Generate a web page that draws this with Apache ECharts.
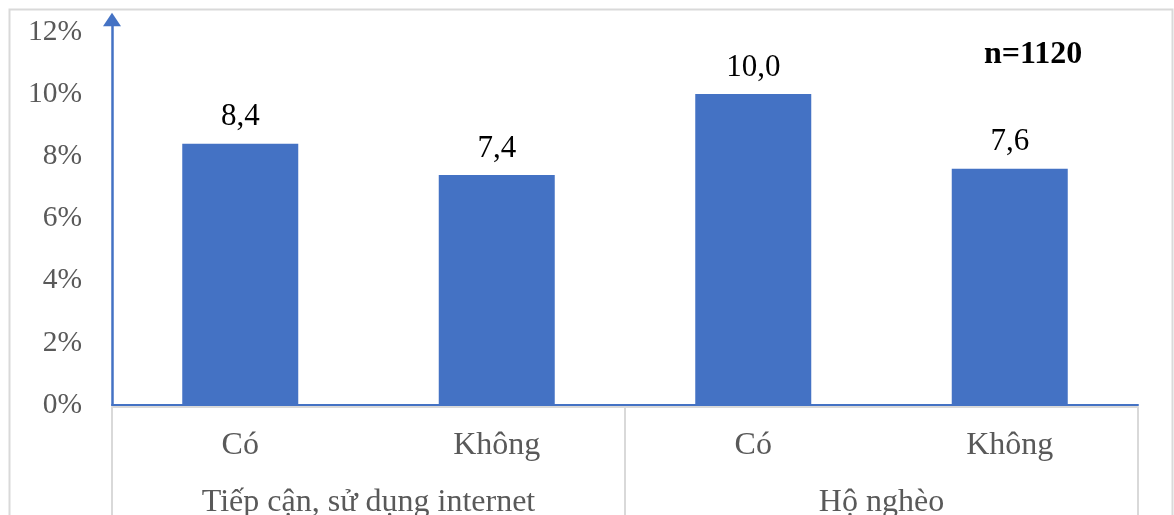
<!DOCTYPE html>
<html>
<head>
<meta charset="utf-8">
<script src="https://cdn.jsdelivr.net/npm/echarts@6/dist/echarts.min.js"></script>
<style>
  html, body { margin: 0; padding: 0; background: #fff; }
  #chart { width: 1174px; height: 515px; }
</style>
</head>
<body>
<div id="chart"></div>
<script>
// Sub-category labels, one per bar
const categories = ['Có', 'Không', 'Có', 'Không'];
// Group labels, each spanning two bars
const groups = ['Tiếp cận, sử dụng internet', 'Hộ nghèo'];
// Share (%) per bar
const values = [8.4, 7.4, 10.0, 7.6];
// Sample size note
const noteText = 'n=1120';

const FONT = '"Liberation Serif", "Times New Roman", serif';
const BLUE = '#4472C4';
const GRAY_TEXT = '#595959';
const GRAY_LINE = '#d9d9d9';

const chart = echarts.init(document.getElementById('chart'), null, { renderer: 'canvas' });

chart.setOption({
  animation: false,
  backgroundColor: '#fff',
  grid: {
    left: 112, right: 36, top: 19.5, bottom: 110,
    containLabel: false,
    outerBoundsMode: 'none'
  },
  xAxis: [
    {
      type: 'category',
      data: categories,
      position: 'bottom',
      z: 5,
      axisLine: { show: true, lineStyle: { color: BLUE, width: 2 } },
      axisTick: { show: false },
      axisLabel: { color: GRAY_TEXT, fontFamily: FONT, fontSize: 32, margin: 25, interval: 0 }
    },
    {
      type: 'category',
      data: groups,
      position: 'bottom',
      offset: 2,
      z: 1,
      axisLine: { show: true, lineStyle: { color: GRAY_LINE, width: 2 } },
      axisTick: { show: true, length: 120, interval: 0, lineStyle: { color: GRAY_LINE, width: 2 } },
      axisLabel: { color: GRAY_TEXT, fontFamily: FONT, fontSize: 32, margin: 80, interval: 0 }
    }
  ],
  yAxis: {
    type: 'value',
    min: 0,
    max: 12.4,
    interval: 2,
    splitLine: { show: false },
    axisTick: { show: false },
    axisLine: {
      show: true,
      symbol: ['none', 'path://M0,0L10,15L-10,15Z'],
      symbolSize: [18, 15],
      lineStyle: { color: BLUE, width: 2.5 }
    },
    axisLabel: {
      color: GRAY_TEXT,
      fontFamily: FONT,
      fontSize: 29.5,
      margin: 30,
      padding: [7, 0, 0, 0],
      showMaxLabel: false,
      formatter: v => (Math.abs(v - Math.round(v)) < 1e-9 ? Math.round(v) + '%' : '')
    }
  },
  series: [
    {
      type: 'bar',
      xAxisIndex: 0,
      data: values,
      barWidth: 116,
      itemStyle: { color: BLUE },
      label: {
        show: true,
        position: 'top',
        distance: 11,
        color: '#000',
        fontFamily: FONT,
        fontSize: 31,
        formatter: p => p.value.toFixed(1).replace('.', ',')
      }
    }
  ],
  graphic: [
    {
      type: 'rect',
      shape: { x: 9.5, y: 9.5, width: 1163, height: 530 },
      style: { fill: 'none', stroke: GRAY_LINE, lineWidth: 2 },
      z: -1,
      silent: true
    },
    {
      type: 'text',
      left: 984,
      top: 39,
      style: {
        text: noteText,
        font: 'bold 32px ' + FONT,
        fill: '#000'
      }
    }
  ]
});
</script>
</body>
</html>
